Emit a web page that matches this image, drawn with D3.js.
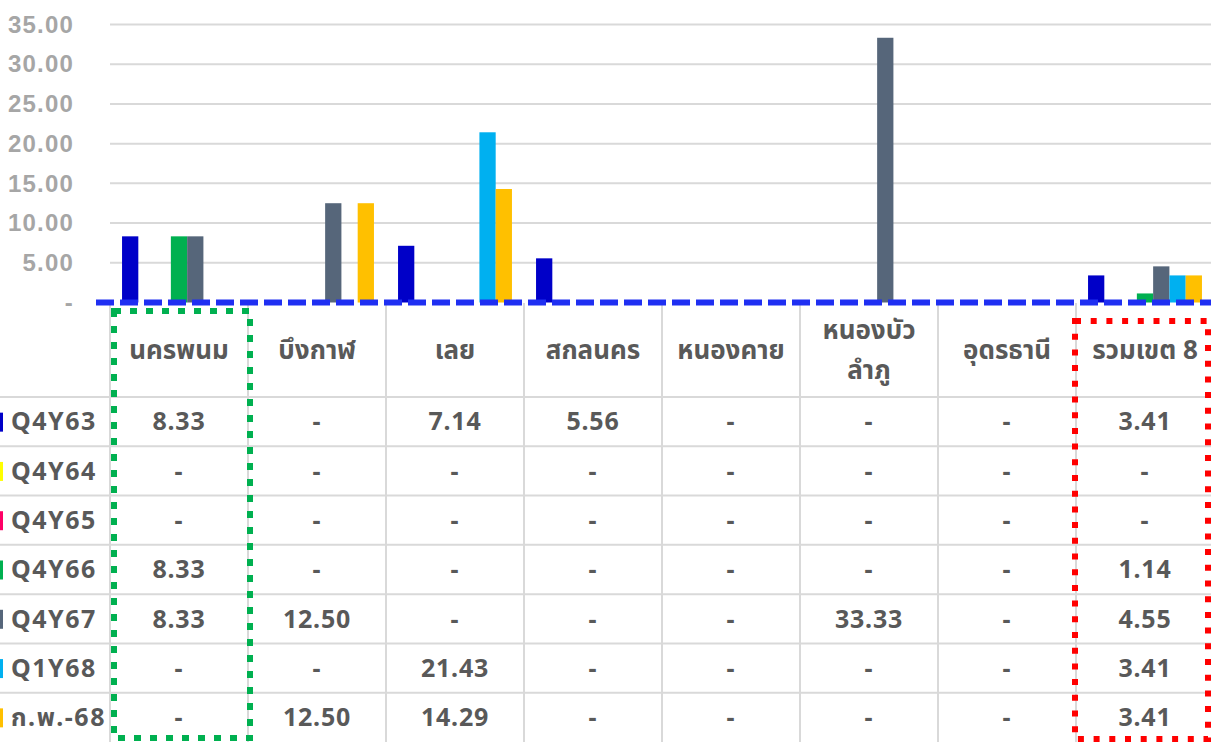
<!DOCTYPE html>
<html>
<head>
<meta charset="utf-8">
<script src="https://cdn.jsdelivr.net/npm/d3@7"></script>
<style>
  body { margin: 0; background: #fff; }
  svg { display: block; font-family: 'Noto Sans', 'Noto Sans Thai', 'Loma', 'DejaVu Sans', sans-serif; }
</style>
</head>
<body>
<svg id="chart" width="1211" height="742"></svg>
<script>
// categories (provinces) and series (periods)
const categories = ['นครพนม', 'บึงกาฬ', 'เลย', 'สกลนคร', 'หนองคาย', 'หนองบัว\nลำภู', 'อุดรธานี', 'รวมเขต 8']
const series = ['Q4Y63', 'Q4Y64', 'Q4Y65', 'Q4Y66', 'Q4Y67', 'Q1Y68', 'ก.พ.-68']
const colors = ['#0000c8', '#ffff00', '#ff0066', '#00b050', '#56667a', '#00b0f0', '#ffc000']

const q4y63 = [8.33, 0, 7.14, 5.56, 0, 0, 0, 3.41]
const q4y64 = [0, 0, 0, 0, 0, 0, 0, 0]
const q4y65 = [0, 0, 0, 0, 0, 0, 0, 0]
const q4y66 = [8.33, 0, 0, 0, 0, 0, 0, 1.14]
const q4y67 = [8.33, 12.50, 0, 0, 0, 33.33, 0, 4.55]
const q1y68 = [0, 0, 21.43, 0, 0, 0, 0, 3.41]
const feb68 = [0, 12.50, 14.29, 0, 0, 0, 0, 3.41]
const target = 0

const yTicks = [0, 5, 10, 15, 20, 25, 30, 35]

const values = [q4y63, q4y64, q4y65, q4y66, q4y67, q1y68, feb68]

const width = 1211
const height = 742
const left = 110
const headerTop = 303
const headerBottom = 397

const svg = d3.select('#chart')
const textColor = '#595959'
const gridColor = '#d9d9d9'

let x0 = d3.scaleBand().domain(categories).range([left, left + 8 * 138]).padding(0)
let x1 = d3.scaleBand().domain(series).range([0, x0.bandwidth()]).paddingInner(0).paddingOuter(0.74)
let y = d3.scaleLinear().domain([0, 35]).range([302.5, 24.5])

let fmt = function (v) { return v === 0 ? '-' : d3.format('.2f')(v) }

// gridlines
svg.append('g')
  .selectAll('line')
  .data(yTicks.filter(function (d) { return d > 0 }))
  .enter().append('line')
  .attr('x1', left)
  .attr('x2', width)
  .attr('y1', function (d) { return y(d) })
  .attr('y2', function (d) { return y(d) })
  .attr('stroke', gridColor)
  .attr('stroke-width', 2)

// y axis labels
let yAxis = d3.axisLeft(y).tickValues(yTicks).tickFormat(fmt).tickSize(0).tickPadding(0)
let ya = svg.append('g').attr('transform', 'translate(74,0)').call(yAxis)
ya.select('.domain').remove()
ya.selectAll('text')
  .attr('fill', '#a6a6a6')
  .style('font-size', '24px')
  .style('font-weight', 'bold')
  .style('letter-spacing', '1.2px')

// bars
let groups = svg.append('g')
  .selectAll('g')
  .data(categories)
  .enter().append('g')
  .attr('transform', function (d) { return 'translate(' + x0(d) + ',0)' })

groups.selectAll('rect')
  .data(function (d, i) { return series.map(function (s, j) { return { s: s, v: values[j][i], c: colors[j] } }) })
  .enter().append('rect')
  .attr('x', function (d) { return x1(d.s) })
  .attr('width', x1.bandwidth())
  .attr('y', function (d) { return y(d.v) })
  .attr('height', function (d) { return y(0) - y(d.v) })
  .attr('fill', function (d) { return d.c })

// table
let rowY = d3.scaleBand().domain(series).range([headerBottom, height])
let tbl = svg.append('g')

// horizontal row lines
tbl.selectAll('line.h')
  .data(series)
  .enter().append('line')
  .attr('class', 'h')
  .attr('x1', 0)
  .attr('x2', width)
  .attr('y1', function (d) { return rowY(d) })
  .attr('y2', function (d) { return rowY(d) })
  .attr('stroke', gridColor)
  .attr('stroke-width', 2)

// vertical column lines
tbl.selectAll('line.v')
  .data(categories)
  .enter().append('line')
  .attr('class', 'v')
  .attr('x1', function (d) { return x0(d) })
  .attr('x2', function (d) { return x0(d) })
  .attr('y1', headerTop)
  .attr('y2', height)
  .attr('stroke', gridColor)
  .attr('stroke-width', 2)

// header labels
tbl.selectAll('text.head')
  .data(categories)
  .enter().append('text')
  .attr('class', 'head')
  .attr('x', function (d) { return x0(d) + x0.bandwidth() / 2 })
  .attr('y', (headerTop + headerBottom) / 2)
  .attr('text-anchor', 'middle')
  .attr('fill', textColor)
  .style('font-size', '26px')
  .style('font-weight', 'bold')
  .each(function (d) {
    let lines = d.split('\n')
    let t = d3.select(this)
    lines.forEach(function (l, i) {
      t.append('tspan')
        .attr('x', x0(d) + x0.bandwidth() / 2)
        .attr('dy', i === 0 ? (0.35 - (lines.length - 1) * 0.78) + 'em' : '1.56em')
        .text(l)
    })
  })

// legend keys + series names
let rows = tbl.selectAll('g.row')
  .data(series)
  .enter().append('g')
  .attr('class', 'row')
  .attr('transform', function (d) { return 'translate(0,' + (rowY(d) + rowY.bandwidth() / 2) + ')' })

rows.append('rect')
  .attr('x', -9)
  .attr('y', -9)
  .attr('width', 12)
  .attr('height', 19)
  .attr('fill', function (d, i) { return colors[i] })

rows.append('text')
  .attr('x', 11)
  .attr('dy', '0.35em')
  .attr('fill', textColor)
  .style('font-size', '25px')
  .style('font-weight', 'bold')
  .style('letter-spacing', '1.5px')
  .text(function (d) { return d })

rows.each(function (s, j) {
  d3.select(this).selectAll('text.val')
    .data(values[j])
    .enter().append('text')
    .attr('class', 'val')
    .attr('x', function (d, i) { return x0(categories[i]) + x0.bandwidth() / 2 })
    .attr('dy', '0.35em')
    .attr('text-anchor', 'middle')
    .attr('fill', textColor)
    .style('font-size', '25px')
    .style('font-weight', 'bold')
    .style('letter-spacing', '0.8px')
    .text(fmt)
})

// target line (dashed)
svg.append('line')
  .attr('x1', 96)
  .attr('x2', width)
  .attr('y1', y(target))
  .attr('y2', y(target))
  .attr('stroke', '#1f2ff2')
  .attr('stroke-width', 6)
  .attr('stroke-dasharray', '18 6')

// highlight boxes
svg.append('rect')
  .attr('x', 114)
  .attr('y', 311)
  .attr('width', 136)
  .attr('height', 427)
  .attr('fill', 'none')
  .attr('stroke', '#00b050')
  .attr('stroke-width', 6)
  .attr('stroke-dasharray', '7 9')

svg.append('rect')
  .attr('x', 1075)
  .attr('y', 321)
  .attr('width', 133)
  .attr('height', 418)
  .attr('fill', 'none')
  .attr('stroke', '#ff0000')
  .attr('stroke-width', 6)
  .attr('stroke-dasharray', '6 9.7')
</script>
</body>
</html>
